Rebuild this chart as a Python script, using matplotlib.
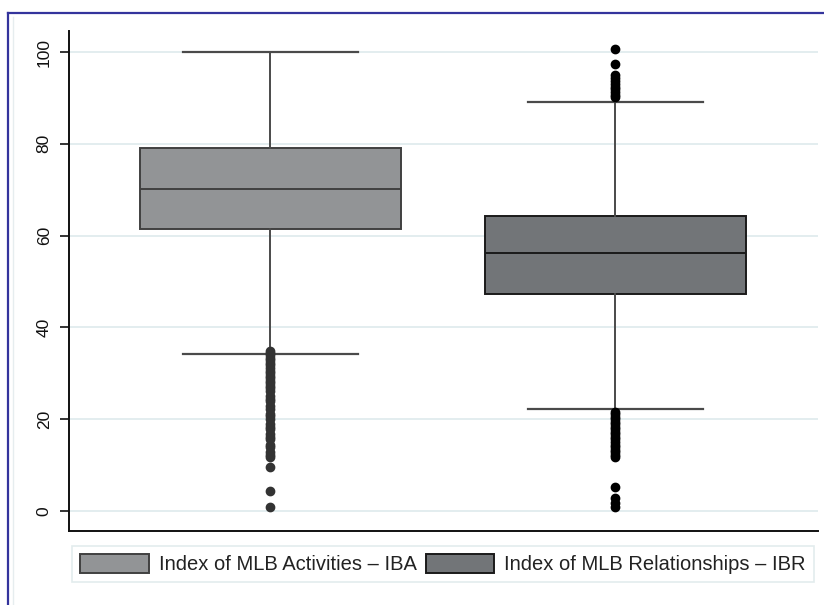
import matplotlib
matplotlib.use("Agg")
import matplotlib.pyplot as plt
from matplotlib.lines import Line2D

plt.rcParams['font.family'] = ['Liberation Sans', 'DejaVu Sans']

# Summary statistics for each index
labels = ["Index of MLB Activities \u2013 IBA", "Index of MLB Relationships \u2013 IBR"]
q1 = [61.4, 47.3]
median = [70.1, 56.1]
q3 = [79.2, 64.25]
whisker_low = [34.1, 22.1]
whisker_high = [100.0, 89.2]

iba_outliers = [34.8, 34.4, 33.9, 33.3, 32.8, 32.2, 31.7, 31.1, 30.5, 30.0,
                29.4, 28.9, 28.3, 27.8, 27.2, 26.7, 26.1, 25.0, 24.4, 23.9,
                22.8, 22.2, 21.1, 20.6, 20.0, 18.9, 18.3, 17.8, 16.7, 16.1,
                15.6, 14.4, 13.9, 12.8, 12.2, 11.7, 9.5, 4.4, 0.8]
ibr_outliers = [100.6, 97.3, 94.9, 94.3, 93.7, 93.1, 92.5, 91.9, 91.3, 90.7,
                90.2,
                21.6, 21.1, 20.5, 20.0, 19.4, 18.9, 18.3, 17.8, 17.2, 16.7,
                16.1, 15.6, 15.0, 14.4, 13.9, 13.3, 12.8, 12.2, 11.7,
                5.3, 2.8, 1.7, 0.8]
outliers = [iba_outliers, ibr_outliers]

yticks = [0, 20, 40, 60, 80, 100]

fill_colors = ["#929496", "#727578"]
edge_colors = ["#404040", "#1a1a1a"]
flier_colors = ["#333333", "#000000"]

fig = plt.figure(figsize=(8.24, 6.05), dpi=100)
fig.patch.set_facecolor("white")

# outer frame (top and left only) and faint inner frame
W, H = 824, 605
fig.add_artist(Line2D([8 / W, 1.0], [1 - 13 / H, 1 - 13 / H], color="#34349c", lw=1.6,
                      transform=fig.transFigure))
fig.add_artist(Line2D([8 / W, 8 / W], [0, 1 - 13 / H], color="#34349c", lw=1.6,
                      transform=fig.transFigure))
fig.add_artist(Line2D([13 / W, 13 / W], [0, 1 - 17 / H], color="#e6edef", lw=1.0,
                      transform=fig.transFigure))

ax = fig.add_axes([69 / W, 1 - 531 / H, (818 - 69) / W, (531 - 31) / H])

handles = []
for i in range(2):
    stats = [dict(med=median[i], q1=q1[i], q3=q3[i],
                  whislo=whisker_low[i], whishi=whisker_high[i],
                  fliers=outliers[i], label=labels[i])]
    art = ax.bxp(stats, positions=[i + 1], widths=0.754, capwidths=0.507,
                 patch_artist=True, manage_ticks=False,
                 boxprops=dict(facecolor=fill_colors[i], edgecolor=edge_colors[i], linewidth=1.4),
                 medianprops=dict(color=edge_colors[i], linewidth=1.4),
                 whiskerprops=dict(color="#4a4a4a", linewidth=1.4),
                 capprops=dict(color="#4a4a4a", linewidth=1.6),
                 flierprops=dict(marker="o", markersize=6.0, markerfacecolor=flier_colors[i],
                                 markeredgecolor=flier_colors[i], linestyle="none"))
    art["boxes"][0].set_label(labels[i])
    art["medians"][0].set_zorder(4)
    handles.append(art["boxes"][0])

ax.set_xlim(0.416, 2.587)
ax.set_ylim(-4.4, 104.6)
ax.set_yticks(yticks)
ax.set_yticklabels([str(t) for t in yticks])
ax.set_xticks([])
ax.yaxis.grid(True, color="#e3edef", linewidth=1.4)
ax.set_axisbelow(True)

for s in ["top", "right"]:
    ax.spines[s].set_visible(False)
for s in ["left", "bottom"]:
    ax.spines[s].set_linewidth(1.4)
    ax.spines[s].set_color("#111111")

ax.tick_params(axis="y", length=6.5, width=1.2, pad=6, labelsize=12.5,
               labelrotation=90, colors="#111111")
for lbl in ax.get_yticklabels():
    lbl.set_verticalalignment("center")

leg = fig.legend(handles=handles, labels=labels, loc="center",
                 bbox_to_anchor=(443 / W, 1 - 564 / H), ncol=2,
                 prop=dict(size=14.5), frameon=True, fancybox=False,
                 handlelength=3.4, handleheight=1.1, handletextpad=0.5, columnspacing=0.45,
                 borderpad=0.4, borderaxespad=0)
leg.get_frame().set_edgecolor("#dce7e9")
leg.get_frame().set_linewidth(1.2)
for t in leg.get_texts():
    t.set_color("#222222")

fig.savefig("out.png", dpi=100, facecolor="white")
